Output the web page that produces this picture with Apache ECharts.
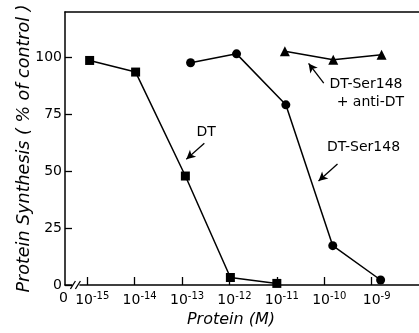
<!DOCTYPE html>
<html>
<head>
<meta charset="utf-8">
<script src="https://cdn.jsdelivr.net/npm/echarts@6/dist/echarts.min.js"></script>
<style>
  html, body { margin: 0; padding: 0; background: #fff; }
  #chart { width: 419px; height: 333px; }
</style>
</head>
<body>
<div id="chart"></div>
<script>
// x values are log10 of protein concentration (M)
const xTicks = [-15, -14, -13, -12, -11, -10, -9]
const yTicks = [0, 25, 50, 75, 100]

const dtX = [-14.95, -13.98, -12.93, -11.98, -11.0]
const dtY = [98.7, 93.6, 47.9, 3.3, 0.7]

const serX = [-12.82, -11.85, -10.81, -9.82, -8.81]
const serY = [97.7, 101.6, 79.2, 17.3, 2.2]

const antiX = [-10.83, -9.81, -8.79]
const antiY = [102.7, 99.0, 101.2]

const X_MIN = -15.47
const X_MAX = -8

const font = 'DejaVu Sans'
const chart = echarts.init(document.getElementById('chart'))

const pairs = (xs, ys) => xs.map((x, i) => [x, ys[i]])

const lineSeries = (name, xs, ys, symbol, size) => ({
  name,
  type: 'line',
  data: pairs(xs, ys),
  symbol,
  symbolSize: size,
  lineStyle: { color: '#000', width: 1.5 },
  itemStyle: { color: '#000' },
  animation: false,
  clip: false
})

const label = (text, coord) => ({
  coord,
  symbol: 'circle',
  symbolSize: 1,
  itemStyle: { color: 'rgba(0,0,0,0)' },
  label: {
    show: true, position: 'inside', formatter: text, align: 'center',
    color: '#000', fontFamily: font, fontSize: 14, lineHeight: 18
  }
})

const arrow = (from, to, curve) => [
  { coord: from, symbol: 'none' },
  { coord: to, symbol: 'arrow', symbolSize: [7, 9], lineStyle: { curveness: curve } }
]

const arrowLine = data => ({
  silent: true, symbol: ['none', 'arrow'],
  lineStyle: { color: '#000', width: 1.3, type: 'solid' }, label: { show: false },
  data: [data]
})

const dt = lineSeries('DT', dtX, dtY, 'rect', 9)
dt.markPoint = { silent: true, data: [label('DT', [-12.49, 67])] }
dt.markLine = arrowLine(arrow([-12.53, 62.3], [-12.91, 55.3], -0.2))

const ser = lineSeries('DT-Ser148', serX, serY, 'circle', 9)
ser.markPoint = { silent: true, data: [label('DT-Ser148', [-9.17, 60.5])] }
ser.markLine = arrowLine(arrow([-9.72, 53.2], [-10.12, 45.7], -0.2))

const anti = lineSeries('DT-Ser148 + anti-DT', antiX, antiY, 'triangle', 10)
anti.markPoint = { silent: true, data: [label('DT-Ser148\n  + anti-DT', [-9.12, 84.3])] }
anti.markLine = arrowLine(arrow([-10.01, 88.7], [-10.33, 97.4], 0.2))

chart.setOption({
  backgroundColor: '#fff',
  animation: false,
  grid: { left: 65, right: 0, top: 12, bottom: 45 },
  xAxis: [{
    type: 'value',
    min: X_MIN,
    max: X_MAX,
    name: 'Protein (M)',
    nameLocation: 'middle',
    nameGap: 27,
    nameTextStyle: { fontFamily: font, fontStyle: 'italic', fontSize: 16, color: '#000', padding: [0, 22, 0, 0] },
    axisLine: { lineStyle: { color: '#000', width: 1.5 } },
    axisTick: { inside: true, length: 8, customValues: xTicks, lineStyle: { color: '#000', width: 1.3 } },
    axisLabel: {
      customValues: [X_MIN].concat(xTicks),
      margin: 6,
      formatter: v => v === X_MIN ? '{z|0}' : '{b|10}{s|' + Math.round(v) + '}',
      rich: {
        z: { fontFamily: font, fontSize: 14, color: '#000', padding: [0, 3, 0, 0] },
        b: { fontFamily: font, fontSize: 14, color: '#000', verticalAlign: 'bottom', padding: [0, 0, 0, 10] },
        s: { fontFamily: font, fontSize: 10, color: '#000', verticalAlign: 'top', padding: [0, 0, 6, 0] }
      }
    },
    splitLine: { show: false }
  }, {
    type: 'value',
    position: 'top',
    min: X_MIN,
    max: X_MAX,
    axisLine: { lineStyle: { color: '#000', width: 1.5 } },
    axisTick: { show: false },
    axisLabel: { show: false },
    splitLine: { show: false }
  }],
  yAxis: {
    type: 'value',
    min: 0,
    max: 120,
    interval: 25,
    name: 'Protein Synthesis ( % of control )',
    nameLocation: 'middle',
    nameGap: 32,
    nameMoveOverlap: false,
    nameTextStyle: { fontFamily: font, fontStyle: 'italic', fontSize: 17.5, color: '#000' },
    axisLine: { show: true, lineStyle: { color: '#000', width: 1.5 } },
    axisTick: { inside: true, length: 7, lineStyle: { color: '#000', width: 1.3 } },
    axisLabel: { showMaxLabel: false, margin: 3, fontFamily: font, fontSize: 14, color: '#000' },
    splitLine: { show: false }
  },
  series: [dt, ser, anti]
})

// axis break marks "//" drawn just right of the origin
const p = chart.convertToPixel({ xAxisIndex: 0 }, X_MIN + 0.22)
const y0 = chart.convertToPixel({ yAxisIndex: 0 }, 0)
chart.setOption({
  graphic: [
    { type: 'rect', shape: { x: p - 3, y: y0 - 2, width: 7, height: 4 }, style: { fill: '#fff' }, z: 100 },
    { type: 'line', shape: { x1: p - 5, y1: y0 + 4, x2: p, y2: y0 - 4 }, style: { stroke: '#000', lineWidth: 1.3 }, z: 101 },
    { type: 'line', shape: { x1: p, y1: y0 + 4, x2: p + 5, y2: y0 - 4 }, style: { stroke: '#000', lineWidth: 1.3 }, z: 101 }
  ]
})
</script>
</body>
</html>
